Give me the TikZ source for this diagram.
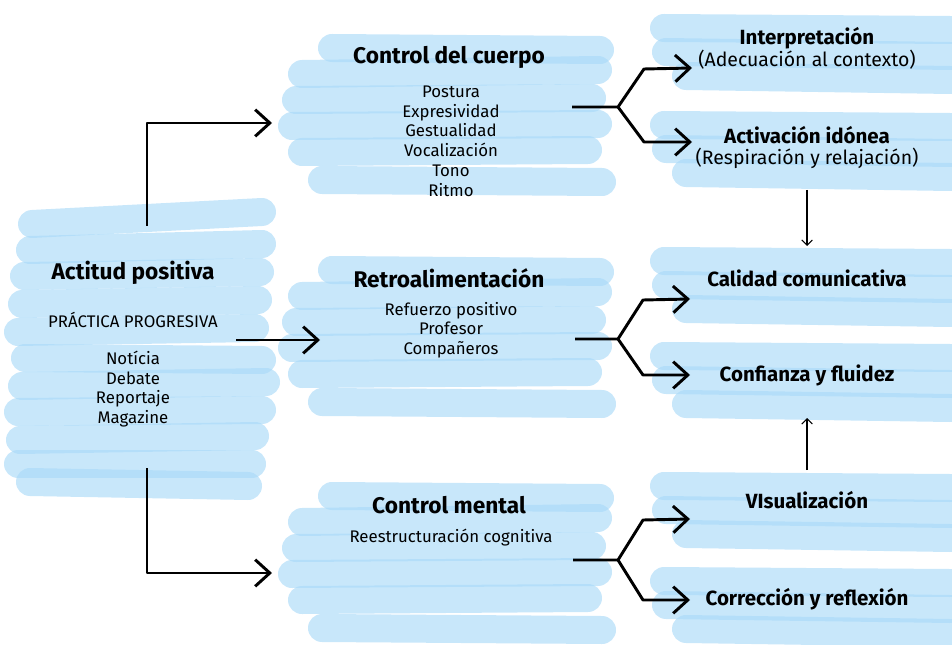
\documentclass[tikz,border=0pt]{standalone}
\usepackage{fontspec}
\setmainfont{Fira Sans}
\usetikzlibrary{arrows.meta}

\definecolor{brushblue}{RGB}{170,218,248}

\tikzset{
  brush/.style={line width=21pt, line cap=round, draw=brushblue, draw opacity=0.65},
  bigtitle/.style={font=\fontsize{17}{19}\selectfont\bfseries, inner sep=0.75pt},
  sidetitle/.style={font=\fontsize{15.4}{18}\selectfont\bfseries, inner sep=0.75pt},
  subtext/.style={font=\fontsize{14.6}{17}\selectfont, inner sep=0.75pt},
  items/.style={font=\fontsize{12.6}{14.8}\selectfont, align=center, inner sep=0.75pt},
  link/.style={line width=2.2pt, line join=round, -{Straight Barb[length=11pt,width=20pt]}},
  thinlink/.style={line width=0.8pt, -{Straight Barb[length=4pt,width=8pt]}},
}

\begin{document}
\begin{tikzpicture}[x=0.75pt,y=0.75pt,yscale=-1,xscale=1]
\useasboundingbox (0,0) rectangle (952,645);
\clip (0,0) rectangle (952,645);

%Brush strokes: left block
\foreach \xa/\ya/\xb/\yb in {32/224/262/212, 30/250/262/244, 24/276/260/272, 22/304/258/300,
    18/332/255/328, 25/358/262/360, 22/386/266/382, 18/412/262/410, 20/440/255/436,
    18/464/252/464, 30/482/248/486}
  \draw [brush] (\xa,\ya) -- (\xb,\yb);

%Brush strokes: middle blocks
\foreach \dy in {0,222,448}
  \foreach \xa/\ya/\xb/\yb in {332/48/600/50, 302/74/598/70, 296/100/592/98,
      292/126/598/124, 302/152/588/150, 322/180/602/182}
    \draw [brush] (\xa,\ya+\dy) -- (\xb,\yb+\dy);

%Brush strokes: right blocks
\foreach \dy in {0,97,233,328,458,553}
  \foreach \xa/\ya/\xb/\yb in {664/28/950/30, 666/52/950/56, 686/76/950/80}
    \draw [brush] (\xa,\ya+\dy) -- (\xb,\yb+\dy);

% Text Node
\node [bigtitle] (actitud) at (133,273) {Actitud positiva};
\node [items] (practica) at (133,320) {PRÁCTICA PROGRESIVA};
\node [items] (generos) at (133,389) {Notícia\\Debate\\Reportaje\\Magazine};

% Text Node
\node [bigtitle] (cuerpo) at (449,57) {Control del cuerpo};
\node [items] (cuerpo items) at (451,141) {Postura\\Expresividad\\Gestualidad\\Vocalización\\Tono\\Ritmo};
\node [bigtitle] (retro) at (449,278) {Retroalimentación};
\node [items] (retro items) at (451,330) {Refuerzo positivo\\Profesor\\Compañeros};
\node [bigtitle] (mental) at (449,505) {Control mental};
\node [items] (mental items) at (451,538) {Reestructuración cognitiva};

% Text Node
\node [sidetitle] (interp) at (807,38) {Interpretación};
\node [subtext] (interp sub) at (807,60) {(Adecuación al contexto)};
\node [sidetitle] (activ) at (807,135) {Activación idónea};
\node [subtext] (activ sub) at (807,158) {(Respiración y relajación)};
\node [sidetitle] (calidad) at (807,278) {Calidad comunicativa};
\node [sidetitle] (confianza) at (807,375) {Confianza y fluidez};
\node [sidetitle] (visual) at (807,500) {VIsualización};
\node [sidetitle] (correccion) at (807,599) {Corrección y reflexión};

%Connector ends
\coordinate (actitud up) at (147,226);
\coordinate (actitud mid) at (236,340);
\coordinate (actitud down) at (147,468);
\coordinate (cuerpo in) at (272,123);
\coordinate (retro in) at (320,340);
\coordinate (mental in) at (272,573);

\coordinate (cuerpo out) at (572,107);
\coordinate (cuerpo fork) at (618,107);
\coordinate (interp in) at (692,68);
\coordinate (activ in) at (692,142);

\coordinate (retro out) at (575,339);
\coordinate (retro fork) at (618,339);
\coordinate (calidad in) at (690,299);
\coordinate (confianza in) at (690,375);

\coordinate (mental out) at (573,560);
\coordinate (mental fork) at (618,560);
\coordinate (visual in) at (690,519);
\coordinate (correccion in) at (690,600);

%Arrows from Actitud positiva
\draw [link] (actitud up) |- (cuerpo in);
\draw [link] (actitud mid) -- (retro in);
\draw [link] (actitud down) |- (mental in);

%Forks
\draw [link] (cuerpo out) -- (cuerpo fork) -- ++(26,-38) -- (interp in);
\draw [link] (cuerpo fork) -- ++(26,35) -- (activ in);
\draw [link] (retro out) -- (retro fork) -- ++(25,-39) -- (calidad in);
\draw [link] (retro fork) -- ++(25,36) -- (confianza in);
\draw [link] (mental out) -- (mental fork) -- ++(25,-40) -- (visual in);
\draw [link] (mental fork) -- ++(25,40) -- (correccion in);

%Vertical arrows
\coordinate (activ below) at (807,190);
\coordinate (calidad above) at (807,246);
\coordinate (visual above) at (807,470);
\coordinate (confianza below) at (807,418);
\draw [thinlink] (activ below) -- (calidad above);
\draw [thinlink] (visual above) -- (confianza below);

\end{tikzpicture}
\end{document}
